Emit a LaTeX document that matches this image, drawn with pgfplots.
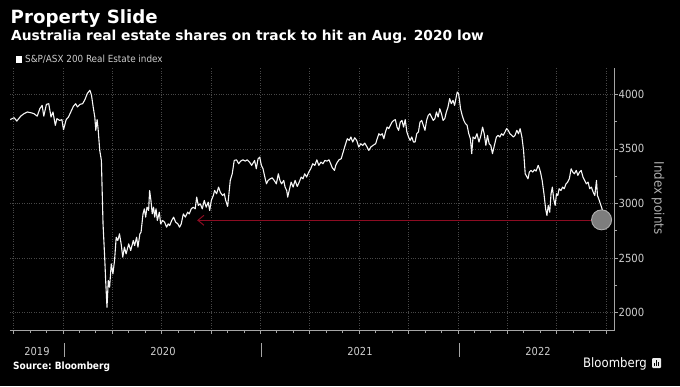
\documentclass[border=0pt]{standalone}
\usepackage{pgfplots}
\pgfplotsset{compat=1.18}
\usepackage{pgfplotstable}
\usepackage{fontspec}
\setmainfont{DejaVu Sans}
\newfontfamily\cond{DejaVu Sans Condensed}
\usetikzlibrary{arrows.meta}
\definecolor{gridc}{RGB}{72,72,72}
\definecolor{axisgray}{RGB}{165,165,165}
\definecolor{ticktext}{RGB}{205,205,205}
\definecolor{arrowred}{RGB}{140,12,34}
\definecolor{circfill}{RGB}{125,125,125}
\definecolor{circedge}{RGB}{175,175,175}

% x = months since 1 Jan 2020
\pgfplotstableread{
m v
-3.20 3768
-2.96 3786
-2.80 3755
-2.56 3800
-2.36 3823
-2.16 3838
-1.96 3832
-1.76 3823
-1.56 3800
-1.40 3868
-1.26 3899
-1.16 3800
-1.00 3908
-0.86 3914
-0.72 3792
-0.60 3838
-0.46 3716
-0.36 3777
-0.20 3761
-0.06 3768
0.04 3676
0.20 3768
0.34 3792
0.48 3838
0.64 3890
0.78 3914
0.88 3884
1.04 3908
1.20 3914
1.34 3951
1.48 4006
1.64 4037
1.74 3991
1.84 3884
1.94 3792
2.00 3670
2.08 3768
2.14 3685
2.24 3486
2.34 3394
2.44 2813
2.54 2508
2.60 2294
2.68 2049
2.76 2294
2.84 2233
2.94 2447
3.04 2355
3.14 2477
3.24 2691
3.34 2661
3.44 2722
3.54 2630
3.64 2508
3.74 2600
3.84 2538
4.00 2630
4.12 2569
4.28 2661
4.36 2615
4.48 2691
4.56 2600
4.68 2722
4.75 2738
4.87 2905
4.95 2951
5.03 2875
5.11 2966
5.21 2936
5.27 3119
5.35 3028
5.43 2905
5.51 2966
5.58 2875
5.66 2951
5.74 2844
5.86 2920
5.94 2813
6.06 2844
6.18 2829
6.30 2783
6.40 2813
6.49 2798
6.61 2844
6.73 2875
6.85 2829
6.99 2813
7.09 2783
7.19 2813
7.32 2905
7.44 2875
7.58 2920
7.68 2905
7.80 2951
7.92 2966
8.04 2951
8.13 3058
8.23 2982
8.35 2997
8.47 2951
8.59 3028
8.71 2966
8.83 3012
8.92 2936
9.02 3028
9.14 3073
9.22 3119
9.34 3089
9.46 3150
9.56 3104
9.70 3073
9.81 3089
9.89 3028
10.01 2973
10.09 3089
10.17 3211
10.29 3272
10.41 3394
10.55 3400
10.68 3364
10.80 3388
10.94 3400
11.08 3388
11.20 3400
11.34 3379
11.47 3349
11.65 3394
11.75 3318
11.86 3410
11.96 3425
12.06 3349
12.16 3318
12.27 3242
12.37 3180
12.47 3211
12.60 3226
12.72 3235
12.84 3211
12.97 3180
13.09 3272
13.19 3211
13.29 3180
13.42 3211
13.50 3150
13.60 3119
13.66 3058
13.75 3119
13.87 3196
13.99 3150
14.11 3211
14.24 3156
14.36 3196
14.48 3242
14.59 3226
14.69 3272
14.81 3242
14.94 3288
15.06 3318
15.18 3364
15.31 3349
15.43 3400
15.55 3349
15.68 3379
15.80 3364
15.92 3394
16.05 3388
16.17 3400
16.27 3364
16.37 3327
16.50 3303
16.58 3349
16.68 3379
16.78 3400
16.91 3410
17.03 3471
17.15 3532
17.28 3593
17.40 3578
17.50 3609
17.61 3563
17.73 3602
17.85 3578
17.98 3517
18.10 3547
18.22 3532
18.34 3553
18.47 3521
18.59 3486
18.71 3517
18.84 3532
19.00 3547
19.10 3593
19.20 3639
19.30 3624
19.40 3639
19.50 3593
19.60 3654
19.70 3700
19.80 3685
19.90 3716
20.00 3746
20.10 3761
20.20 3768
20.30 3700
20.40 3670
20.50 3746
20.60 3761
20.70 3700
20.80 3768
20.90 3654
21.00 3609
21.10 3578
21.20 3609
21.30 3563
21.40 3563
21.50 3639
21.60 3654
21.70 3746
21.80 3761
21.90 3716
22.00 3670
22.10 3761
22.20 3807
22.30 3823
22.40 3792
22.50 3761
22.60 3777
22.70 3838
22.80 3792
22.90 3868
23.00 3823
23.10 3761
23.20 3777
23.30 3838
23.40 3884
23.50 3960
23.60 3914
23.70 3945
23.80 3899
23.90 3976
23.96 4021
24.04 4006
24.10 3945
24.16 3868
24.26 3807
24.36 3761
24.46 3731
24.56 3716
24.66 3639
24.76 3593
24.84 3456
24.92 3609
25.04 3593
25.16 3639
25.28 3563
25.40 3624
25.50 3700
25.60 3639
25.70 3532
25.80 3624
25.90 3547
26.00 3532
26.10 3456
26.24 3547
26.34 3609
26.44 3624
26.55 3609
26.65 3639
26.75 3624
26.86 3654
26.96 3685
27.06 3670
27.16 3639
27.27 3624
27.37 3609
27.47 3624
27.58 3670
27.68 3639
27.78 3685
27.89 3609
27.99 3486
28.09 3272
28.20 3242
28.26 3226
28.34 3288
28.44 3303
28.55 3288
28.65 3309
28.75 3297
28.88 3349
28.96 3318
29.04 3272
29.12 3211
29.23 3089
29.33 2951
29.41 2890
29.49 2982
29.58 2920
29.66 3089
29.74 3150
29.82 3043
29.91 2982
29.99 3089
30.07 3073
30.15 3135
30.26 3119
30.36 3150
30.46 3135
30.57 3180
30.67 3196
30.77 3226
30.88 3318
30.98 3288
31.08 3272
31.19 3303
31.29 3257
31.39 3288
31.49 3303
31.60 3242
31.70 3211
31.80 3180
31.91 3196
32.01 3135
32.11 3150
32.22 3104
32.32 3073
32.42 3211
32.48 3073
32.59 3028
32.69 2982
32.79 2936
32.84 2859
}\idx

\begin{document}
\begin{tikzpicture}[x=1pt,y=1pt]
\fill[black] (0,0) rectangle (680,386);
\begin{axis}[
  at={(6,51)}, anchor=south west,
  scale only axis, width=604.7pt, height=262pt,
  xmin=-3.22, xmax=33.52, ymin=1838, ymax=4238,
  axis x line*=bottom, axis y line*=right,
  axis line style={-, draw=axisgray, line width=1pt},
  xtick={-3,0,...,33}, xticklabels={}, minor x tick num=2,
  ytick={2000,2500,...,4000}, minor y tick num=1,
  xtick pos=bottom, ytick pos=right,
  tick align=outside, major tick length=3.5pt, minor tick length=2.5pt,
  every tick/.style={axisgray, line width=0.7pt},
  xmajorgrids, ymajorgrids,
  grid style={gridc, dotted, line width=0.7pt},
  yticklabel style={font=\cond\fontsize{11.2}{13}\selectfont, text=ticktext, anchor=west, xshift=-3pt},
  /pgf/number format/1000 sep={},
  /pgf/number format/assume math mode=true,
  clip=false,
]
\addplot[arrowred, line width=1pt, -{Straight Barb[length=6pt,width=10pt,line width=1pt]}] coordinates {(32.2,2846) (8.16,2846)};
\addplot[only marks, mark=*, mark size=10pt, mark options={fill=circfill, draw=circedge, line width=0.9pt}] coordinates {(32.73,2850)};
\addplot[white!94!gray, line width=1.1pt, line join=round] table[x=m,y=v]{\idx};
\end{axis}
% titles
\node[anchor=base west, inner sep=0pt, text=white, font=\bfseries\fontsize{18.2}{20}\selectfont] at (10.5,362) {Property Slide};
\node[anchor=base west, inner sep=0pt, text=white, font=\bfseries\fontsize{13.8}{16}\selectfont] at (11,345) {Australia real estate shares on track to hit an Aug. 2020 low};
% legend
\fill[white] (16,323) rectangle (22,329.5);
\node[anchor=base west, inner sep=0pt, text=ticktext, font=\cond\fontsize{9.8}{11}\selectfont] at (25,323) {S\&P/ASX 200 Real Estate index};
% y axis title
\node[rotate=-90, text=ticktext!85!black, font=\cond\fontsize{13.2}{15}\selectfont] at (658,188) {Index points};
% year separators and labels
\foreach \xx in {64.0,261.5,459.0} {\draw[axisgray, line width=0.8pt] (\xx,43) -- (\xx,29);}
\foreach \xx/\yy in {37/2019,163/2020,360/2021,538/2022} {\node[anchor=base, inner sep=0pt, text=ticktext, font=\cond\fontsize{11}{13}\selectfont] at (\xx,31) {\yy};}
% source and logo
\node[anchor=base west, inner sep=0pt, text=white, font=\cond\bfseries\fontsize{10}{12}\selectfont] at (13,17) {Source:\ Bloomberg};
\node[anchor=base west, inner sep=0pt, text=white, font=\cond\fontsize{13}{15}\selectfont] at (583,19) {Bloomberg};
\fill[white!85!gray, rounded corners=1pt] (652,18) rectangle (661,28);
\draw[black, line width=0.8pt] (654.5,20) -- (654.5,23.5) (656.5,20) -- (656.5,26) (658.5,20) -- (658.5,24.5);
\end{tikzpicture}
\end{document}
